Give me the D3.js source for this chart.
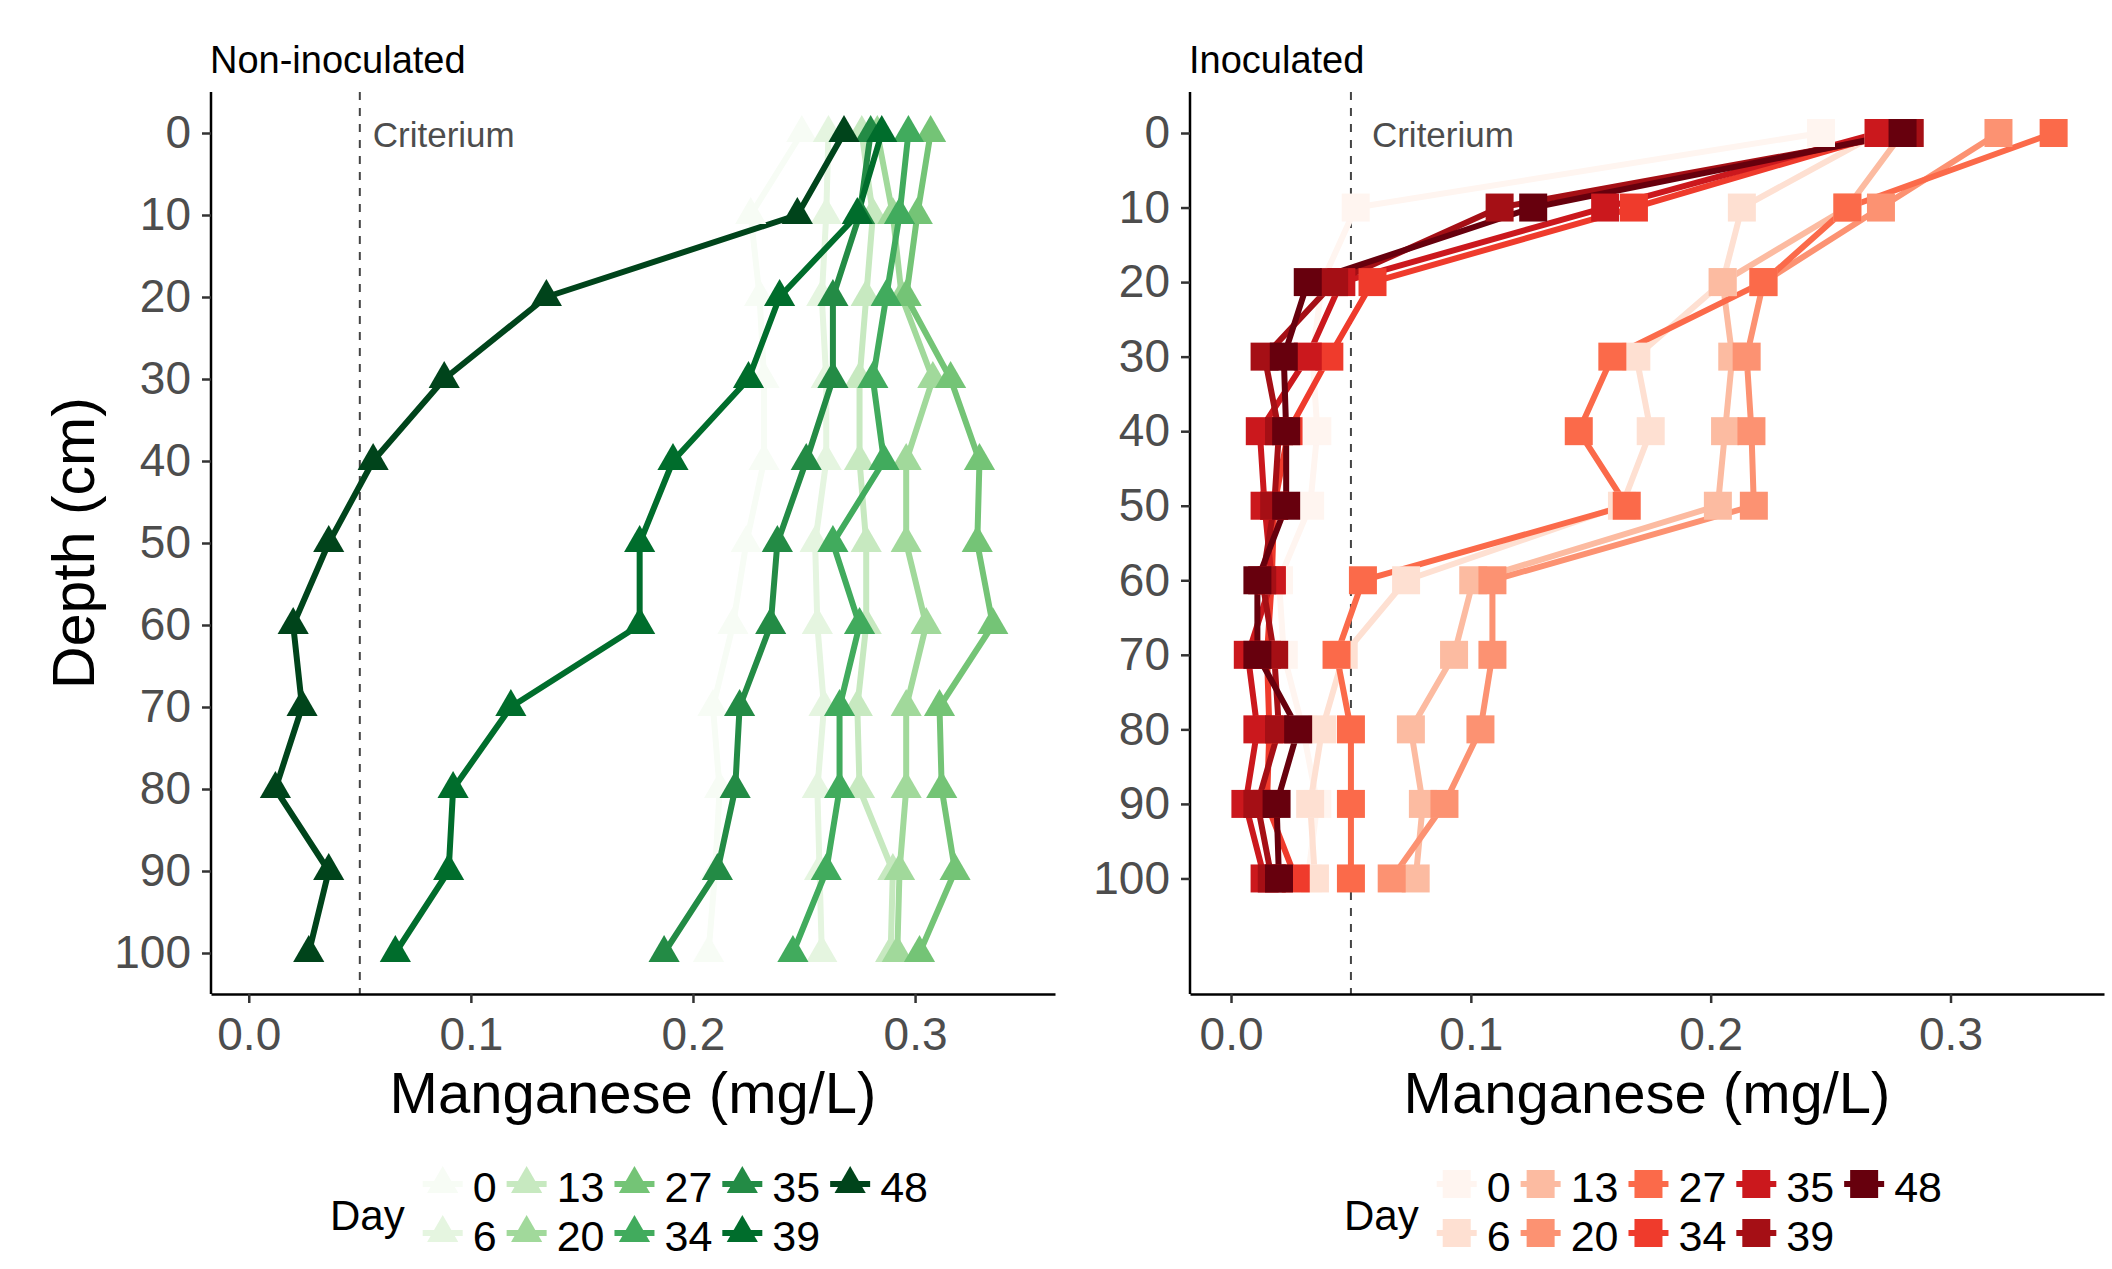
<!DOCTYPE html>
<html>
<head>
<meta charset="utf-8">
<script src="https://cdn.jsdelivr.net/npm/d3@7"></script>
<style>
  body { margin: 0; background: #fff; }
  text { font-family: "Liberation Sans", Arial, sans-serif; }
</style>
</head>
<body>
<svg id="chart" width="2112" height="1269"></svg>
<script>
const depths = [0, 10, 20, 30, 40, 50, 60, 70, 80, 90, 100];
const days = [0, 6, 13, 20, 27, 34, 35, 39, 48];
const xTicks = [0, 0.1, 0.2, 0.3];
const criterium = 0.05;

const greens = ['#F7FCF5', '#E5F5E0', '#C7E9C0', '#A1D99B', '#74C476', '#41AB5D', '#238B45', '#006D2C', '#00441B'];
const reds = ['#FFF5F0', '#FEE0D2', '#FCBBA1', '#FC9272', '#FB6A4A', '#EF3B2C', '#CB181D', '#A50F15', '#67000D'];

// manganese (mg/L), one row per day, one value per depth
const nonInoculated = [
  [0.249, 0.226, 0.230, 0.232, 0.232, 0.224, 0.218, 0.209, 0.212, 0.210, 0.207], // day 0
  [0.261, 0.260, 0.258, 0.260, 0.260, 0.255, 0.256, 0.259, 0.256, 0.257, 0.258], // day 6
  [0.276, 0.281, 0.278, 0.275, 0.275, 0.278, 0.278, 0.274, 0.275, 0.290, 0.289], // day 13
  [0.283, 0.290, 0.294, 0.308, 0.296, 0.296, 0.305, 0.296, 0.296, 0.293, 0.292], // day 20
  [0.307, 0.301, 0.296, 0.316, 0.329, 0.328, 0.335, 0.311, 0.312, 0.318, 0.302], // day 27
  [0.297, 0.293, 0.287, 0.281, 0.286, 0.263, 0.275, 0.266, 0.266, 0.260, 0.245], // day 34
  [0.280, 0.275, 0.263, 0.263, 0.251, 0.238, 0.235, 0.221, 0.219, 0.211, 0.187], // day 35
  [0.285, 0.274, 0.239, 0.225, 0.191, 0.176, 0.176, 0.118, 0.092, 0.090, 0.066], // day 39
  [0.268, 0.247, 0.134, 0.088, 0.056, 0.036, 0.020, 0.024, 0.012, 0.036, 0.027]  // day 48
];

const inoculated = [
  [0.246, 0.052, 0.038, 0.034, 0.036, 0.033, 0.020, 0.022, 0.030, 0.036, 0.032], // day 0
  [0.270, 0.213, 0.205, 0.169, 0.175, 0.163, 0.073, 0.047, 0.038, 0.033, 0.035], // day 6
  [0.280, 0.257, 0.205, 0.209, 0.206, 0.203, 0.101, 0.093, 0.075, 0.080, 0.077], // day 13
  [0.320, 0.271, 0.222, 0.215, 0.217, 0.218, 0.109, 0.109, 0.104, 0.089, 0.067], // day 20
  [0.343, 0.257, 0.222, 0.159, 0.145, 0.165, 0.055, 0.044, 0.050, 0.050, 0.050], // day 27
  [0.274, 0.168, 0.059, 0.041, 0.024, 0.018, 0.017, 0.015, 0.016, 0.015, 0.027], // day 34
  [0.270, 0.156, 0.046, 0.032, 0.012, 0.014, 0.017, 0.007, 0.011, 0.006, 0.014], // day 35
  [0.283, 0.112, 0.043, 0.014, 0.020, 0.018, 0.013, 0.018, 0.020, 0.011, 0.017], // day 39
  [0.280, 0.126, 0.032, 0.022, 0.023, 0.023, 0.011, 0.011, 0.028, 0.019, 0.020]  // day 48
];

const svg = d3.select('#chart');
svg.append('rect').attr('width', 2112).attr('height', 1269).attr('fill', '#fff');

const plotTop = 92;
const plotBottom = 994;

const panels = [
  { title: 'Non-inoculated', left: 211, right: 1055, xDomain: [-0.017, 0.363], yDomain: [-5, 105],
    values: nonInoculated, colors: greens, symbol: d3.symbolTriangle, size: 421, critDx: 13 },
  { title: 'Inoculated', left: 1190, right: 2104, xDomain: [-0.0171, 0.364], yDomain: [-5.5, 115.5],
    values: inoculated, colors: reds, symbol: d3.symbolSquare, size: 784, critDx: 21 }
];

panels.forEach((p) => {
  const x = d3.scaleLinear().domain(p.xDomain).range([p.left, p.right]);
  const y = d3.scaleLinear().domain(p.yDomain).range([plotTop, plotBottom]);
  const g = svg.append('g');

  // criterion line
  g.append('line')
    .attr('x1', x(criterium)).attr('x2', x(criterium))
    .attr('y1', plotTop).attr('y2', plotBottom)
    .attr('stroke', '#444').attr('stroke-width', 2)
    .attr('stroke-dasharray', '8,8');

  g.append('text')
    .attr('x', x(criterium) + p.critDx)
    .attr('y', y(0) + 14)
    .attr('font-size', 35)
    .attr('fill', '#4D4D4D')
    .text('Criterium');

  const line = d3.line()
    .x(d => x(d))
    .y((d, i) => y(depths[i]));

  g.selectAll('path.series')
    .data(p.values)
    .enter()
    .append('path')
    .attr('class', 'series')
    .attr('d', line)
    .attr('fill', 'none')
    .attr('stroke', (d, i) => p.colors[i])
    .attr('stroke-width', 6)
    .attr('stroke-linejoin', 'round');

  const sym = d3.symbol().type(p.symbol).size(p.size);
  p.values.forEach((vals, i) => {
    g.selectAll(null)
      .data(vals)
      .enter()
      .append('path')
      .attr('d', sym)
      .attr('transform', (d, j) => `translate(${x(d)},${y(depths[j])})`)
      .attr('fill', p.colors[i]);
  });

  // axes
  const yAxis = g.append('g')
    .attr('transform', `translate(${p.left},0)`)
    .call(d3.axisLeft(y).tickValues(depths).tickSize(9).tickSizeOuter(0).tickPadding(11));
  const xAxis = g.append('g')
    .attr('transform', `translate(0,${plotBottom})`)
    .call(d3.axisBottom(x).tickValues(xTicks).tickSize(9).tickSizeOuter(0).tickPadding(14)
      .tickFormat(d3.format('.1f')));

  [xAxis, yAxis].forEach((a) => {
    a.select('.domain').attr('stroke', '#000').attr('stroke-width', 2.5);
    a.selectAll('.tick line').attr('stroke', '#333').attr('stroke-width', 2.5);
    a.selectAll('.tick text')
      .attr('font-size', 46)
      .attr('fill', '#4D4D4D')
      .style('font-family', '"Liberation Sans", Arial, sans-serif');
  });
  yAxis.select('.domain').attr('d', `M0,${plotBottom}V${plotTop}`);

  // panel title
  g.append('text')
    .attr('x', p.left - 1)
    .attr('y', 73)
    .attr('font-size', 38)
    .attr('fill', '#000')
    .text(p.title);

  // x axis title
  g.append('text')
    .attr('x', (p.left + p.right) / 2)
    .attr('y', 1113)
    .attr('text-anchor', 'middle')
    .attr('font-size', 58)
    .attr('fill', '#000')
    .text('Manganese (mg/L)');

  // legend
  const leg = g.append('g');
  const dayText = leg.append('text')
    .attr('x', 0).attr('y', 1215)
    .attr('dy', '0.35em')
    .attr('font-size', 42)
    .attr('fill', '#000')
    .text('Day');
  let cx = dayText.node().getComputedTextLength() + 18 + 20;
  const rowsY = [1184, 1233];
  const nCols = Math.ceil(days.length / 2);
  let legEnd = 0;
  for (let c = 0; c < nCols; c += 1) {
    let maxW = 0;
    for (let r = 0; r < 2; r += 1) {
      const k = c * 2 + r;
      if (k >= days.length) break;
      leg.append('line')
        .attr('x1', cx - 20).attr('x2', cx + 20)
        .attr('y1', rowsY[r]).attr('y2', rowsY[r])
        .attr('stroke', p.colors[k]).attr('stroke-width', 6);
      leg.append('path')
        .attr('d', sym)
        .attr('transform', `translate(${cx},${rowsY[r]})`)
        .attr('fill', p.colors[k]);
      const t = leg.append('text')
        .attr('x', cx + 30).attr('y', rowsY[r] + 3)
        .attr('dy', '0.35em')
        .attr('font-size', 43)
        .attr('fill', '#000')
        .text(days[k]);
      maxW = Math.max(maxW, t.node().getComputedTextLength());
    }
    legEnd = cx + 30 + maxW;
    cx = legEnd + 30;
  }
  leg.attr('transform', `translate(${(p.left + p.right) / 2 - 4 - legEnd / 2},0)`);
});

// y axis title
svg.append('text')
  .attr('transform', 'translate(94,543) rotate(-90)')
  .attr('text-anchor', 'middle')
  .attr('font-size', 59)
  .attr('fill', '#000')
  .text('Depth (cm)');
</script>
</body>
</html>
